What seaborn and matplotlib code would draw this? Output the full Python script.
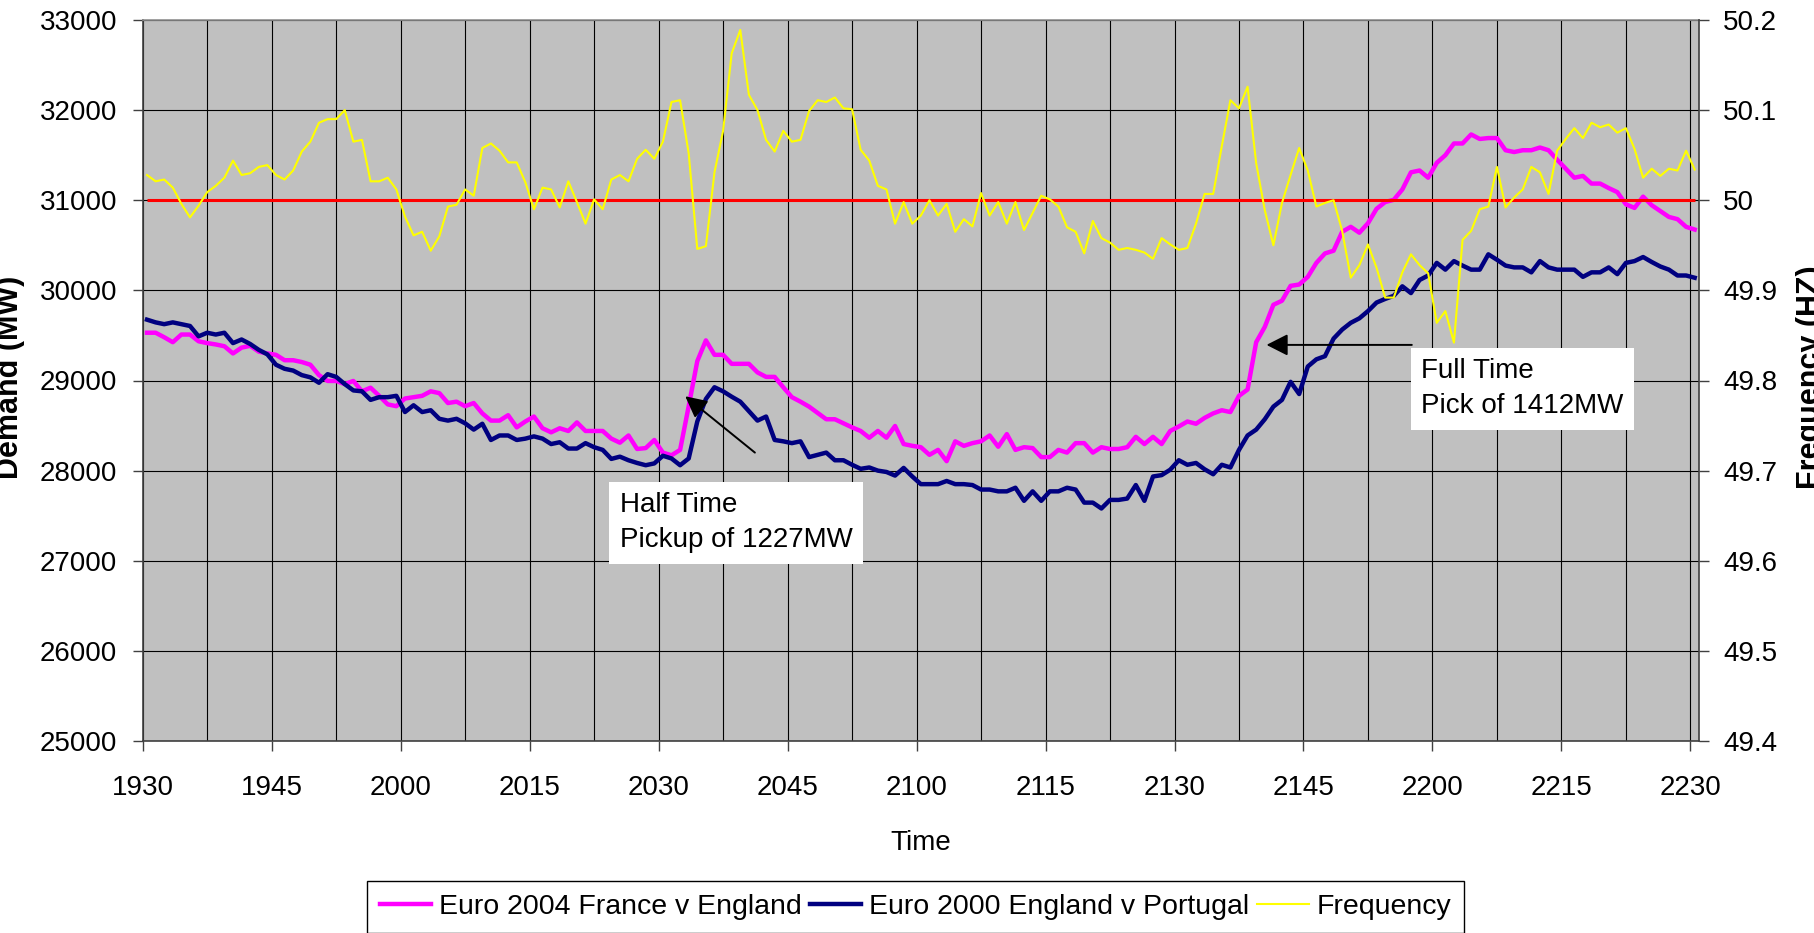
import matplotlib
matplotlib.use('Agg')
import matplotlib.pyplot as plt
import matplotlib.ticker as mticker
import seaborn as sns
import numpy as np
import pandas as pd

#%% data: one reading per minute, 19:30 -> 22:30

tick_labels = ['1930', '1945', '2000', '2015', '2030', '2045', '2100',
               '2115', '2130', '2145', '2200', '2215', '2230']

# Demand (MW), Euro 2004 France v England
euro2004 = [29530, 29530, 29480, 29425, 29510, 29510, 29435, 29415, 29400, 29380,
            29300, 29365, 29385, 29320, 29300, 29285, 29225, 29225, 29205, 29175,
            29060, 28995, 28995, 28960, 28995, 28880, 28920, 28830, 28735, 28715,
            28800, 28815, 28830, 28880, 28860, 28750, 28765, 28715, 28750, 28635,
            28555, 28555, 28615, 28480, 28545, 28600, 28470, 28425, 28470, 28440,
            28535, 28440, 28440, 28440, 28355, 28310, 28390, 28240, 28250, 28340,
            28200, 28170, 28230, 28715, 29215, 29445, 29285, 29285, 29185, 29185,
            29185, 29090, 29040, 29040, 28925, 28815, 28765, 28710, 28640, 28570,
            28570, 28525, 28480, 28440, 28365, 28440, 28365, 28495, 28295, 28275,
            28260, 28175, 28230, 28105, 28325, 28275, 28305, 28325, 28390, 28265,
            28405, 28230, 28260, 28250, 28150, 28150, 28230, 28200, 28305, 28305,
            28200, 28260, 28240, 28240, 28260, 28375, 28295, 28375, 28295, 28440,
            28490, 28545, 28520, 28585, 28635, 28670, 28650, 28830, 28900, 29425,
            29595, 29840, 29885, 30050, 30065, 30150, 30305, 30410, 30440, 30650,
            30705, 30640, 30745, 30905, 30980, 31005, 31120, 31310, 31330, 31250,
            31415, 31500, 31630, 31630, 31730, 31680, 31690, 31690, 31555, 31535,
            31555, 31555, 31585, 31555, 31450, 31350, 31250, 31270, 31185, 31185,
            31135, 31090, 30955, 30915, 31040, 30945, 30880, 30815, 30790, 30705,
            30675]

# Demand (MW), Euro 2000 England v Portugal
euro2000 = [29675, 29645, 29625, 29645, 29625, 29605, 29490, 29530, 29510, 29530,
            29415, 29455, 29405, 29340, 29290, 29175, 29130, 29110, 29060, 29035,
            28975, 29070, 29040, 28960, 28890, 28880, 28785, 28815, 28815, 28830,
            28650, 28725, 28650, 28670, 28575, 28555, 28575, 28525, 28455, 28520,
            28340, 28390, 28390, 28340, 28355, 28380, 28355, 28295, 28315, 28245,
            28245, 28305, 28260, 28230, 28130, 28155, 28115, 28085, 28060, 28080,
            28165, 28135, 28060, 28135, 28545, 28795, 28925, 28880, 28820, 28765,
            28660, 28555, 28600, 28340, 28325, 28305, 28325, 28150, 28175, 28200,
            28115, 28115, 28065, 28020, 28035, 28000, 27985, 27945, 28030, 27935,
            27850, 27850, 27850, 27885, 27850, 27850, 27840, 27790, 27790, 27770,
            27770, 27810, 27665, 27770, 27665, 27770, 27770, 27810, 27790, 27645,
            27645, 27580, 27675, 27675, 27690, 27840, 27665, 27935, 27950, 28010,
            28115, 28065, 28085, 28015, 27960, 28065, 28035, 28230, 28390, 28455,
            28570, 28710, 28785, 28985, 28850, 29155, 29235, 29270, 29465, 29565,
            29640, 29690, 29770, 29865, 29905, 29940, 30045, 29970, 30115, 30165,
            30305, 30230, 30325, 30275, 30230, 30230, 30400, 30340, 30275, 30255,
            30255, 30200, 30325, 30255, 30230, 30230, 30230, 30150, 30200, 30200,
            30255, 30180, 30305, 30325, 30370, 30315, 30265, 30230, 30165, 30165,
            30140]

# System frequency (Hz)
frequency = [50.028, 50.021, 50.023, 50.014, 49.996, 49.981, 49.994, 50.009, 50.016, 50.025,
             50.044, 50.028, 50.030, 50.037, 50.039, 50.028, 50.023, 50.033, 50.054, 50.065,
             50.086, 50.090, 50.090, 50.100, 50.065, 50.067, 50.021, 50.021, 50.025, 50.012,
             49.982, 49.961, 49.965, 49.944, 49.960, 49.993, 49.995, 50.012, 50.005, 50.058,
             50.063, 50.055, 50.042, 50.042, 50.020, 49.990, 50.014, 50.012, 49.992, 50.021,
             49.998, 49.974, 50.001, 49.990, 50.023, 50.028, 50.021, 50.046, 50.056, 50.046,
             50.065, 50.109, 50.111, 50.052, 49.946, 49.949, 50.031, 50.077, 50.163, 50.189,
             50.117, 50.100, 50.067, 50.054, 50.077, 50.065, 50.067, 50.099, 50.111, 50.109,
             50.114, 50.102, 50.101, 50.056, 50.044, 50.016, 50.012, 49.974, 49.998, 49.974,
             49.983, 50.000, 49.983, 49.996, 49.965, 49.979, 49.971, 50.008, 49.983, 49.998,
             49.974, 49.998, 49.967, 49.986, 50.005, 50.001, 49.993, 49.970, 49.965, 49.941,
             49.977, 49.958, 49.953, 49.945, 49.947, 49.945, 49.942, 49.935, 49.958, 49.951,
             49.945, 49.947, 49.974, 50.007, 50.007, 50.060, 50.111, 50.102, 50.126, 50.041,
             49.989, 49.950, 49.997, 50.028, 50.058, 50.033, 49.993, 49.997, 50.000, 49.966,
             49.914, 49.928, 49.951, 49.925, 49.892, 49.892, 49.920, 49.940, 49.928, 49.919,
             49.864, 49.877, 49.842, 49.956, 49.966, 49.990, 49.993, 50.037, 49.992, 50.003,
             50.012, 50.037, 50.031, 50.007, 50.055, 50.068, 50.080, 50.069, 50.086, 50.081,
             50.084, 50.075, 50.080, 50.057, 50.025, 50.035, 50.027, 50.035, 50.033, 50.055,
             50.034]

nominal_hz = 50.0

#%%
df = pd.DataFrame({'minute': np.arange(len(euro2004)),
                   'euro2004': euro2004,
                   'euro2000': euro2000,
                   'frequency': frequency})

plt.rcParams['font.family'] = ['Liberation Sans', 'DejaVu Sans']

W, H = 1814, 933
fig = plt.figure(figsize=(W / 100, H / 100), dpi=100)
ax = fig.add_axes([142.7 / W, 1 - 741 / H, (1699 - 142.7) / W, 721 / H])
ax2 = ax.twinx()

ax.set_facecolor('#C0C0C0')
ax.set_axisbelow(True)

sns.lineplot(data=df, x='minute', y='euro2004', ax=ax, color='#FF00FF', linewidth=3.2,
             label='Euro 2004 France v England', legend=False)
sns.lineplot(data=df, x='minute', y='euro2000', ax=ax, color='#000080', linewidth=3.2,
             label='Euro 2000 England v Portugal', legend=False)

ax2.hlines(nominal_hz, df['minute'].min(), df['minute'].max(), color='#FF0000', lw=2.2)
sns.lineplot(data=df, x='minute', y='frequency', ax=ax2, color='#FFFF00', linewidth=1.5,
             label='Frequency', legend=False)

# axes ranges / ticks
n = len(df)
ax.set_xlim(-0.5, n - 0.5)
ax.set_ylim(25000, 33000)
ax2.set_ylim(49.4, 50.2)

ax.set_xticks(np.arange(len(tick_labels)) * 15 - 0.5)
ax.set_xticklabels(tick_labels)
ax.set_xticks(np.arange(len(tick_labels) - 1) * 15 + 7, minor=True)
ax.set_yticks(np.arange(25000, 33001, 1000))
ax2.set_yticks(np.round(np.arange(49.4, 50.21, 0.1), 1))
ax2.yaxis.set_major_formatter(mticker.FuncFormatter(lambda v, p: f'{v:g}'))

ax.grid(True, axis='x', which='both', color='black', lw=0.8)
ax.grid(True, axis='y', which='major', color='black', lw=0.8)

ax.tick_params(axis='x', which='major', direction='out', length=7.5, width=1,
               color='#404040', labelsize=20, pad=17)
ax.tick_params(axis='x', which='minor', length=0)
ax.tick_params(axis='y', direction='out', length=7.5, width=1, color='#404040',
               labelsize=20, pad=11)
ax2.tick_params(axis='y', direction='out', length=7.5, width=1, color='#404040',
                labelsize=20, pad=10)

ax.set_xlabel('')
ax.set_ylabel('')
ax2.set_ylabel('')

for s in ['left', 'bottom']:
    ax.spines[s].set_color('#404040')
    ax.spines[s].set_linewidth(1.2)
ax.spines['top'].set_color('#909090')
ax.spines['top'].set_linewidth(1.2)
ax.spines['right'].set_visible(False)
for s in ['left', 'bottom', 'top']:
    ax2.spines[s].set_visible(False)
ax2.spines['right'].set_color('#404040')
ax2.spines['right'].set_linewidth(1.2)

# annotations
arrow = dict(arrowstyle='-|>,head_length=0.65,head_width=0.33', color='black', lw=1.4,
             shrinkA=0, shrinkB=0, mutation_scale=20)
box = dict(boxstyle='square,pad=0.38', fc='white', ec='none')

ax2.annotate('', xy=(62.6, 28825), xycoords=ax.transData,
             xytext=(70.7, 28200), textcoords=ax.transData, arrowprops=arrow)
ax2.text(55.0, 27420, 'Half Time\nPickup of 1227MW', transform=ax.transData,
         ha='left', va='center', fontsize=20, linespacing=1.45, bbox=box, zorder=5)

ax2.annotate('', xy=(130.2, 29395), xycoords=ax.transData,
             xytext=(147.1, 29395), textcoords=ax.transData, arrowprops=arrow)
ax2.text(148.2, 28907, 'Full Time\nPick of 1412MW', transform=ax.transData,
         ha='left', va='center', fontsize=20, linespacing=1.45, bbox=box, zorder=5)

# axis titles (cut at the figure edges as in the original)
fig.text(921 / W, 1 - 850 / H, 'Time', ha='center', va='baseline', fontsize=20)
fig.text(25.5 / W, 1 - 377 / H, 'Demand (MW)', rotation=90, ha='right', va='center',
         fontsize=22, fontweight='bold')
fig.text(1796 / W, 1 - 377 / H, 'Frequency (HZ)', rotation=90, ha='left', va='center',
         fontsize=22, fontweight='bold')

# legend below
h1, l1 = ax.get_legend_handles_labels()
h2, l2 = ax2.get_legend_handles_labels()
leg = fig.legend(h1 + h2, l1 + l2, loc='upper left', bbox_to_anchor=(367 / W, 1 - 881 / H),
                 ncol=3, frameon=True, fancybox=False, edgecolor='black', framealpha=1,
                 fontsize=20.5, handlelength=1.8, handletextpad=0.28, columnspacing=0.28,
                 borderpad=0.46, borderaxespad=0)
leg.get_frame().set_linewidth(1.0)

fig.savefig('out.png', dpi=100)
